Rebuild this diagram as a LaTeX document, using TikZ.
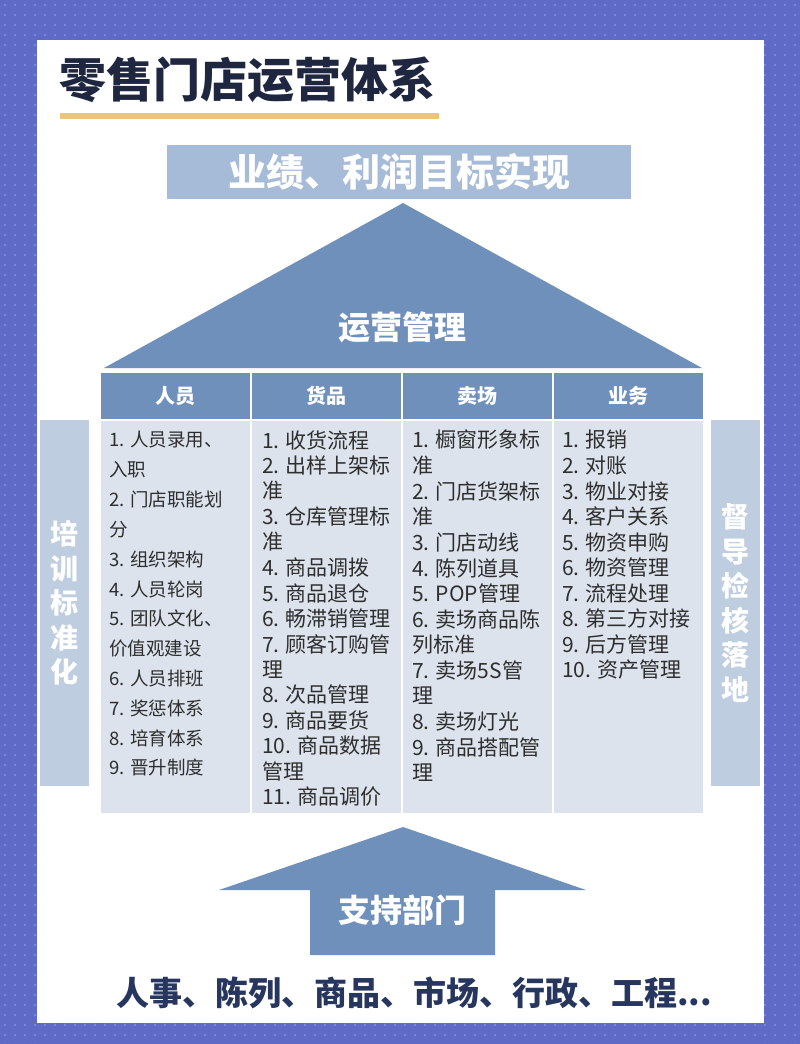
\documentclass[tikz,border=0pt]{standalone}
\usepackage{fontspec}
\setmainfont{Noto Sans CJK SC}
\definecolor{bordc}{HTML}{5E6AC6}
\definecolor{dotc}{HTML}{7C87D6}
\definecolor{mainc}{HTML}{7090BC}
\definecolor{topc}{HTML}{A6BBD7}
\definecolor{sidec}{HTML}{BFCDE1}
\definecolor{bodyc}{HTML}{DDE3ED}
\definecolor{titlec}{HTML}{1F2740}
\definecolor{txtc}{HTML}{2E2E2E}
\definecolor{bottomc}{HTML}{27365E}
\definecolor{barc}{HTML}{ECC47A}
\tikzset{
  hdrtxt/.style={inner sep=0, text=white, font=\fontsize{20}{20}\selectfont\bfseries},
  lineA/.style={anchor=west, inner sep=0, text=txtc, font=\fontsize{18.5}{19}\selectfont},
  lineB/.style={anchor=west, inner sep=0, text=txtc, font=\fontsize{21}{22}\selectfont},
  sidebar/.style={fill=sidec, minimum width=49pt, minimum height=366pt, inner sep=0, text=white,
    align=center, font=\fontsize{28}{34.5}\selectfont\bfseries},
  bigwhite/.style={inner sep=0, text=white, font=\fontsize{32}{32}\selectfont\bfseries}
}
\begin{document}
\begin{tikzpicture}[x=1pt,y=-1pt]
\useasboundingbox (0,0) rectangle (800,1044);
% background with dots
\fill[bordc] (0,0) rectangle (800,1044);
\foreach \y in {5,15,...,1045} {
  \foreach \x in {5,15,25,35,765,775,785,795} { \fill[dotc] (\x,\y) circle (1.3); }
}
\foreach \x in {45,55,...,755} {
  \foreach \y in {5,15,25,35,1025,1035} { \fill[dotc] (\x,\y) circle (1.3); }
}
% white panel
\fill[white] (37,40) rectangle (764,1023);
% title
\node[anchor=west, inner sep=0, text=titlec, font=\fontsize{47}{47}\selectfont\bfseries] (title) at (59,80) {零售门店运营体系};
\fill[barc] (60,113) rectangle (439,119);
% goal box
\node[fill=topc, minimum width=464pt, minimum height=54pt, inner sep=0, text=white,
  font=\fontsize{38}{38}\selectfont\bfseries] (goal) at (399,172) {业绩、利润目标实现};
% roof
\fill[mainc] (104,368) -- (403,203) -- (702,368) -- cycle;
\node[bigwhite] (ops) at (402,327) {运营管理};
% header and body cells
\foreach \l/\t [count=\i] in {101/人员, 252/货品, 403/卖场, 554/业务} {
  \fill[mainc] (\l,373) rectangle ({\l+149},419);
  \fill[bodyc] (\l,421) rectangle ({\l+149},813);
  \node[hdrtxt] (h\i) at ({\l+74.5},396) {\t};
}
% side bars
\node[sidebar] (left) at (64.5,603) {培\\训\\标\\准\\化};
\node[sidebar] (right) at (735.5,603) {督\\导\\检\\核\\落\\地};
% column texts
\foreach \t [count=\i] in {1. 人员录用、, 入职, 2. 门店职能划, 分, 3. 组织架构, 4. 人员轮岗, 5. 团队文化、, 价值观建设, 6. 人员排班, 7. 奖惩体系, 8. 培育体系, 9. 晋升制度}
  \node[lineA] (a\i) at (109,{440+(\i-1)*29.8}) {\t};
\foreach \t [count=\i] in {1. 收货流程, 2. 出样上架标, 准, 3. 仓库管理标, 准, 4. 商品调拨, 5. 商品退仓, 6. 畅滞销管理, 7. 顾客订购管, 理, 8. 次品管理, 9. 商品要货, 10. 商品数据, 管理, 11. 商品调价}
  \node[lineB] (b\i) at (262,{440+(\i-1)*25.5}) {\t};
\foreach \t [count=\i] in {1. 橱窗形象标, 准, 2. 门店货架标, 准, 3. 门店动线, 4. 陈列道具, 5. POP管理, 6. 卖场商品陈, 列标准, 7. 卖场5S管, 理, 8. 卖场灯光, 9. 商品搭配管, 理}
  \node[lineB] (c\i) at (412,{440+(\i-1)*25.6}) {\t};
\foreach \t [count=\i] in {1. 报销, 2. 对账, 3. 物业对接, 4. 客户关系, 5. 物资申购, 6. 物资管理, 7. 流程处理, 8. 第三方对接, 9. 后方管理, 10. 资产管理}
  \node[lineB] (d\i) at (562,{440+(\i-1)*25.55}) {\t};
% support arrow
\fill[mainc] (219,890) -- (403,827) -- (586,890) -- (495,890) -- (495,955) -- (310,955) -- (310,890) -- cycle;
\node[bigwhite] (support) at (402,910) {支持部门};
% bottom text
\node[inner sep=0, text=bottomc, font=\fontsize{33}{33}\selectfont\bfseries] (depts) at (414,993) {人事、陈列、商品、市场、行政、工程...};
\end{tikzpicture}
\end{document}
